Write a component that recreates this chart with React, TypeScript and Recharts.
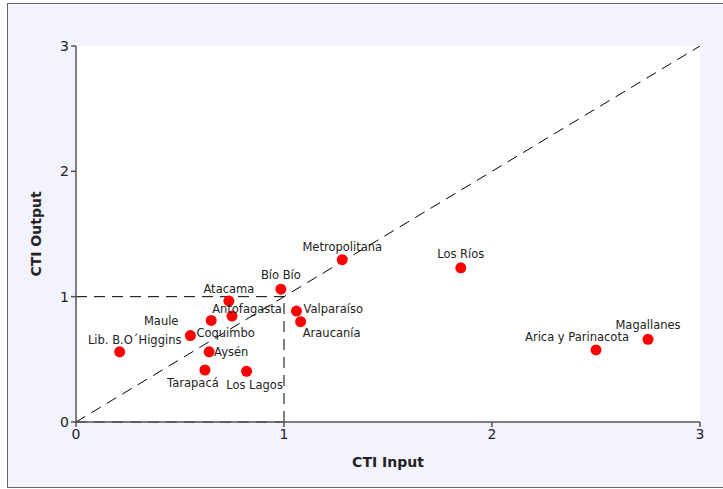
import {
  ScatterChart,
  Scatter,
  XAxis,
  YAxis,
  CartesianGrid,
  ReferenceLine,
} from "recharts";

const regions = [
  "Lib. B.O´Higgins",
  "Maule",
  "Coquimbo",
  "Atacama",
  "Antofagasta",
  "Bío Bío",
  "Aysén",
  "Tarapacá",
  "Los Lagos",
  "Valparaíso",
  "Araucanía",
  "Metropolitana",
  "Los Ríos",
  "Arica y Parinacota",
  "Magallanes",
];
const ctiInput = [0.21, 0.65, 0.55, 0.735, 0.75, 0.985, 0.64, 0.62, 0.82, 1.06, 1.08, 1.28, 1.85, 2.5, 2.75];
const ctiOutput = [0.56, 0.81, 0.69, 0.965, 0.845, 1.06, 0.56, 0.415, 0.405, 0.885, 0.8, 1.295, 1.23, 0.575, 0.66];
const axisTicks = [0, 1, 2, 3];

// label placement around each dot (px), kept apart from the values
const labelPlacement: Record<string, { dx: number; dy: number; anchor: "start" | "middle" | "end" }> = {
  "Lib. B.O´Higgins": { dx: 15, dy: -12, anchor: "middle" },
  Maule: { dx: -50, dy: 1, anchor: "middle" },
  Coquimbo: { dx: 6, dy: -3, anchor: "start" },
  Atacama: { dx: 0, dy: -12, anchor: "middle" },
  Antofagasta: { dx: 15, dy: -7, anchor: "middle" },
  "Bío Bío": { dx: 0, dy: -14, anchor: "middle" },
  Aysén: { dx: 5, dy: 0, anchor: "start" },
  Tarapacá: { dx: -12, dy: 13, anchor: "middle" },
  "Los Lagos": { dx: 8, dy: 14, anchor: "middle" },
  Valparaíso: { dx: 7, dy: -2, anchor: "start" },
  Araucanía: { dx: 31, dy: 11, anchor: "middle" },
  Metropolitana: { dx: 0, dy: -13, anchor: "middle" },
  "Los Ríos": { dx: 0, dy: -14, anchor: "middle" },
  "Arica y Parinacota": { dx: -19, dy: -13, anchor: "middle" },
  Magallanes: { dx: 0, dy: -14, anchor: "middle" },
};

const data = regions.map((name, i) => ({ name, x: ctiInput[i], y: ctiOutput[i] }));

const FONT = "'DejaVu Sans', Verdana, sans-serif";
const dash = "11 7";

function Dot(props: any) {
  const { cx, cy, payload } = props;
  const p = labelPlacement[payload.name] ?? { dx: 0, dy: -14, anchor: "middle" };
  return (
    <g>
      <circle cx={cx} cy={cy} r={5.5} fill="#ff0000" />
      <text
        x={cx + p.dx}
        y={cy + p.dy}
        textAnchor={p.anchor}
        dominantBaseline="central"
        fontSize={11.5}
        fontFamily={FONT}
        fill="#222"
      >
        {payload.name}
      </text>
    </g>
  );
}

export default function App() {
  return (
    <div style={{ position: "absolute", left: 0, top: 0, width: 723, height: 489 }}>
      <div
        style={{
          position: "absolute",
          left: 7,
          top: 3,
          width: 730,
          height: 483,
          background: "#f3f3fd",
          border: "1px solid #666",
        }}
      />
      <div style={{ position: "absolute", left: 0, top: 0 }}>
        <ScatterChart
          width={723}
          height={489}
          margin={{ top: 46, right: 23, bottom: 0, left: 0 }}
        >
          <CartesianGrid fill="#ffffff" horizontal={false} vertical={false} />
          <XAxis
            type="number"
            dataKey="x"
            domain={[0, 3]}
            ticks={axisTicks}
            height={67}
            stroke="#555"
            strokeWidth={1.5}
            tickSize={5}
            tick={{ fontSize: 14, fill: "#222", fontFamily: FONT }}
            label={{
              value: "CTI Input",
              position: "insideBottom",
              offset: 22,
              style: { fontSize: 14, fontWeight: "bold", fill: "#222", fontFamily: FONT },
            }}
          />
          <XAxis
            xAxisId="top"
            orientation="top"
            type="number"
            domain={[0, 3]}
            height={0}
            stroke="#555"
            strokeWidth={1.5}
            tick={false}
            tickLine={false}
          />
          <YAxis
            type="number"
            dataKey="y"
            domain={[0, 3]}
            ticks={axisTicks}
            width={76}
            stroke="#555"
            strokeWidth={1.5}
            tickSize={5}
            tick={{ fontSize: 14, fill: "#222", fontFamily: FONT }}
            label={{
              value: "CTI Output",
              angle: -90,
              position: "insideLeft",
              offset: 36,
              style: { textAnchor: "middle", fontSize: 14, fontWeight: "bold", fill: "#222", fontFamily: FONT },
            }}
          />
          <YAxis
            yAxisId="right"
            orientation="right"
            type="number"
            domain={[0, 3]}
            width={0}
            stroke="#555"
            strokeWidth={1.5}
            tick={false}
            tickLine={false}
          />
          <ReferenceLine
            segment={[{ x: 0, y: 0 }, { x: 3, y: 3 }]}
            stroke="#000"
            strokeDasharray={dash}
            ifOverflow="hidden"
          />
          <ReferenceLine
            segment={[{ x: 0, y: 1 }, { x: 1, y: 1 }]}
            stroke="#000"
            strokeDasharray={dash}
          />
          <ReferenceLine
            segment={[{ x: 1, y: 0 }, { x: 1, y: 1 }]}
            stroke="#000"
            strokeDasharray={dash}
          />
          <ReferenceLine
            segment={[{ x: 0, y: 0 }, { x: 1, y: 0 }]}
            stroke="#000"
            strokeDasharray={dash}
          />
          <Scatter data={data} shape={<Dot />} isAnimationActive={false} />
        </ScatterChart>
      </div>
    </div>
  );
}
